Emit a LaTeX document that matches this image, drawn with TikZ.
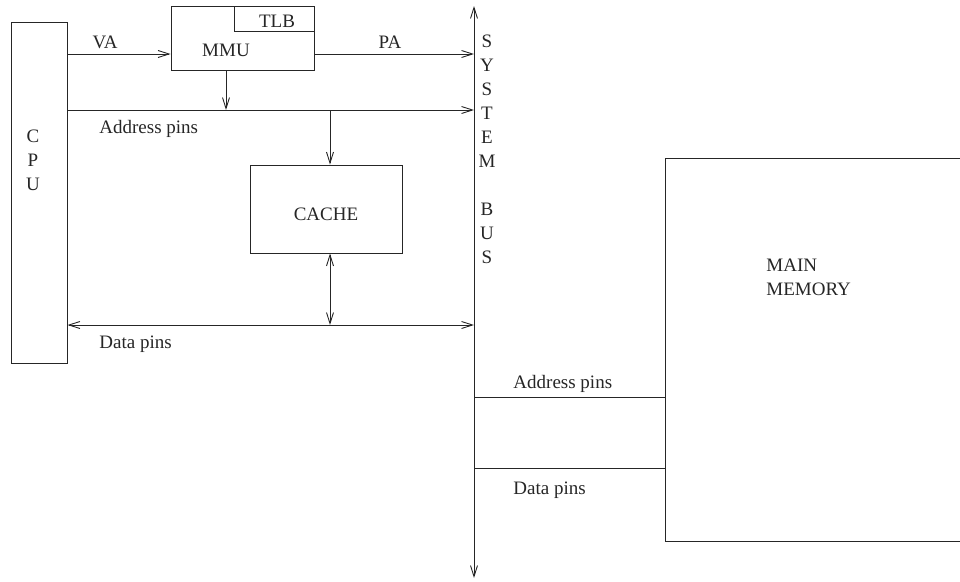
\documentclass[tikz,border=0pt]{standalone}
\usepackage{fontspec}
\setmainfont{Liberation Serif}
\usetikzlibrary{arrows.meta}
\tikzset{
  box/.style={draw,rectangle,inner sep=0pt},
  lbl/.style={inner sep=0pt,font=\fontsize{19}{24}\selectfont},
  arr/.style={-{Straight Barb[length=11pt,width=7pt]}},
  biarr/.style={{Straight Barb[length=11pt,width=7pt]}-{Straight Barb[length=11pt,width=7pt]}}
}
\begin{document}
\begin{tikzpicture}[x=1pt,y=-1pt,line width=0.9pt,color=black!85]
\useasboundingbox (0,0) rectangle (960,581);
\clip (0,0) rectangle (960,581);
% blocks
\node[box,minimum width=56,minimum height=341] (cpu) at (39,192.5) {};
\node[lbl,align=center] (cputext) at (33,160) {C\\P\\U};
\node[box,minimum width=143,minimum height=64] (mmu) at (242.5,38) {};
\node[box,minimum width=80,minimum height=25] (tlb) at (274,18.5) {};
\node[lbl] (tlbtext) at (277,21) {TLB};
\node[lbl] (mmutext) at (226,50) {MMU};
\node[box,minimum width=152,minimum height=88] (cache) at (326,209) {};
\node[lbl] (cachetext) at (326,214) {CACHE};
\node[box,minimum width=320,minimum height=383] (mem) at (825,349.5) {};
\node[lbl,align=left,anchor=west] (memtext) at (766,277) {MAIN\\MEMORY};
% system bus
\coordinate (busN) at (474,6);
\coordinate (busS) at (474,578);
\draw[biarr] (busN) -- (busS);
\node[lbl,align=center] (bustext) at (487,149) {S\\Y\\S\\T\\E\\M\\[24pt]B\\U\\S};
% CPU side
\draw[arr] (cpu.east |- 0,54) -- (mmu.west |- 0,54);
\node[lbl] (va) at (105,42) {VA};
\draw[arr] (mmu.east |- 0,54) -- (busN |- 0,54);
\node[lbl] (pa) at (390,42) {PA};
\draw[arr] (mmu.south -| 226,0) -- (226,110);
\draw[arr] (cpu.east |- 0,110) -- (busN |- 0,110);
\node[lbl,anchor=west] (caddr) at (99,129) {Address pins};
\draw[arr] (330,110) -- (cache.north -| 330,0);
\draw[biarr] (cache.south -| 330,0) -- (330,325);
\draw[biarr] (cpu.east |- 0,325) -- (busN |- 0,325);
\node[lbl,anchor=west] (cdata) at (99,344) {Data pins};
% memory side
\draw (busN |- 0,397) -- (mem.west |- 0,397);
\node[lbl,anchor=west] (maddr) at (513,384) {Address pins};
\draw (busN |- 0,468) -- (mem.west |- 0,468);
\node[lbl,anchor=west] (mdata) at (513,490) {Data pins};
\end{tikzpicture}
\end{document}
